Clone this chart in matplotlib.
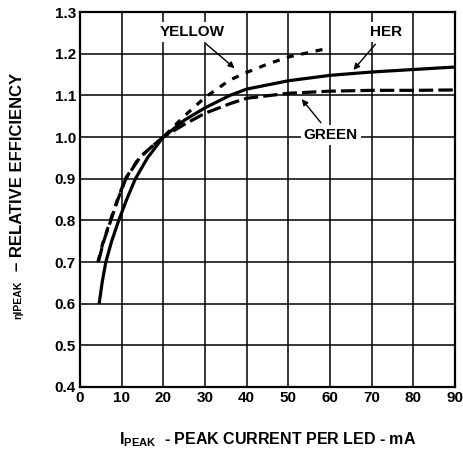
import matplotlib
matplotlib.use("Agg")
import matplotlib.pyplot as plt

plt.rcParams["font.family"] = ["Liberation Sans", "DejaVu Sans"]
plt.rcParams["font.weight"] = "bold"
plt.rcParams["mathtext.fontset"] = "custom"
plt.rcParams["mathtext.rm"] = "Liberation Sans:bold"
plt.rcParams["mathtext.bf"] = "Liberation Sans:bold"
plt.rcParams["mathtext.it"] = "Liberation Sans:bold"

# HER (solid)
her_x = [4.6, 5.3, 6.2, 7.6, 9.3, 11.2, 13.3, 16.2, 20, 25, 30, 36, 40, 50, 60, 70, 80, 90]
her_y = [0.60, 0.65, 0.70, 0.75, 0.80, 0.85, 0.90, 0.95, 1.00, 1.04, 1.07, 1.10, 1.115, 1.135, 1.148, 1.156, 1.162, 1.168]

# YELLOW (dotted)
yel_x = [4.3, 5.6, 7.3, 9.0, 10.9, 14.2, 17, 20, 25, 30, 36, 40, 45, 50, 55, 60]
yel_y = [0.70, 0.75, 0.80, 0.85, 0.90, 0.95, 0.975, 1.00, 1.05, 1.095, 1.137, 1.155, 1.175, 1.192, 1.203, 1.214]

# GREEN (dashed)
grn_x = [4.4, 5.7, 7.4, 9.1, 11.0, 14.3, 17, 20, 25, 30, 36, 40, 50, 60, 70, 80, 90]
grn_y = [0.70, 0.75, 0.80, 0.85, 0.90, 0.95, 0.975, 1.00, 1.03, 1.057, 1.08, 1.093, 1.105, 1.11, 1.112, 1.112, 1.113]

x_ticks = [0, 10, 20, 30, 40, 50, 60, 70, 80, 90]
y_ticks = [0.4, 0.5, 0.6, 0.7, 0.8, 0.9, 1.0, 1.1, 1.2, 1.3]

fig = plt.figure(figsize=(4.64, 4.5), dpi=100)
ax = fig.add_axes([0.1724, 0.14, 0.8082, 0.8333])

ax.set_xlim(0, 90)
ax.set_ylim(0.4, 1.3)
ax.set_xticks(x_ticks)
ax.set_yticks(y_ticks)
ax.set_xticklabels([str(v) for v in x_ticks], fontsize=11, fontweight="bold")
ax.set_yticklabels([f"{v:.1f}" for v in y_ticks], fontsize=11, fontweight="bold")
ax.tick_params(length=0, pad=3)
ax.grid(True, color="black", linewidth=1.1)
ax.set_axisbelow(True)
for s in ax.spines.values():
    s.set_linewidth(1.6)

ax.plot(her_x, her_y, color="black", lw=2.3, solid_capstyle="butt", zorder=3)
ax.plot(yel_x, yel_y, color="black", lw=2.3, linestyle=(0, (2.2, 2.4)), zorder=3)
ax.plot(grn_x, grn_y, color="black", lw=2.3, linestyle=(0, (4.5, 1.6)), zorder=3)

box = dict(boxstyle="square,pad=0.2", fc="white", ec="none")
arrow = dict(arrowstyle="-|>", color="black", lw=1.0, mutation_scale=9, shrinkA=2)
ax.annotate("YELLOW", xy=(37.6, 1.161), xytext=(26.9, 1.252), ha="center", va="center",
            fontsize=11, fontweight="bold", bbox=box, arrowprops=arrow, zorder=5)
ax.annotate("HER", xy=(65.2, 1.156), xytext=(73.4, 1.252), ha="center", va="center",
            fontsize=11, fontweight="bold", bbox=box, arrowprops=arrow, zorder=5)
ax.annotate("GREEN", xy=(52.8, 1.096), xytext=(60.2, 1.005), ha="center", va="center",
            fontsize=11, fontweight="bold", bbox=box, arrowprops=arrow, zorder=5)

ax.set_xlabel(r"I$_{\mathbf{PEAK}}$  - PEAK CURRENT PER LED - mA", fontsize=11.5,
              fontweight="bold", labelpad=18)

# y label in two pieces: small "ηIPEAK" and the main text
fig.text(18 / 464, 1 - 300 / 450, "\u03b7IPEAK", rotation=90, ha="center", va="center",
         fontsize=7.5, fontweight="bold")
fig.text(18 / 464, 1 - 172 / 450, "\u2013 RELATIVE EFFICIENCY", rotation=90, ha="center",
         va="center", fontsize=12, fontweight="bold")

fig.savefig("out.png", dpi=100, facecolor="white")
